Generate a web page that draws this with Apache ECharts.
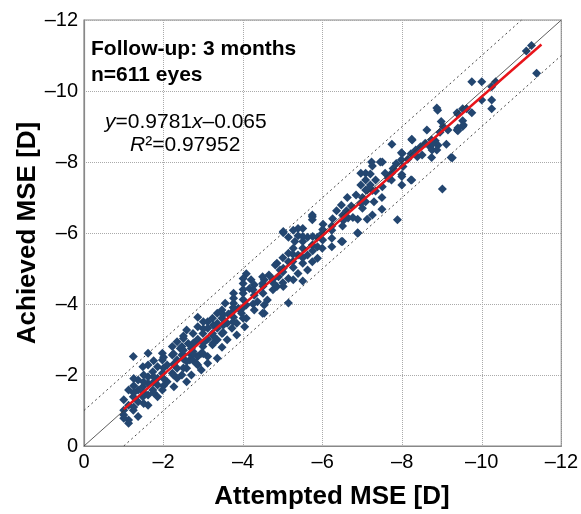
<!DOCTYPE html>
<html>
<head>
<meta charset="utf-8">
<script src="https://cdn.jsdelivr.net/npm/echarts@6/dist/echarts.min.js"></script>
<style>html,body{margin:0;padding:0;background:#fff}#c{width:581px;height:514px}</style>
</head>
<body>
<div id="c"></div>
<script>
// Axis ticks
const xTicks = [0, -2, -4, -6, -8, -10, -12];
const yTicks = [0, -2, -4, -6, -8, -10, -12];

// Scatter: attempted (x) vs achieved (y) MSE
const points = [
[-11.25,-11.28],[-11.12,-11.13],[-11.38,-10.5],[-9.75,-10.26],[-10.0,-10.26],[-10.35,-10.26],[-10.25,-10.12],
[-10.0,-9.75],[-10.25,-9.75],[-10.25,-9.5],[-9.75,-9.39],[-9.52,-9.5],[-9.38,-9.39],[-9.62,-9.5],[-9.52,-9.16],
[-9.52,-9.0],[-9.38,-8.9],[-9.15,-8.9],[-8.98,-9.14],[-9.03,-9.0],[-8.87,-9.52],[-8.62,-8.9],[-8.25,-8.62],
[-7.74,-8.5],[-8.74,-8.62],[-9.11,-8.5],[-9.23,-8.13],[-8.74,-8.13],[-8.0,-8.24],[-7.25,-7.89],[-7.5,-8.0],
[-8.89,-9.46],[-9.4,-9.35],[-9.54,-9.04],[-9.4,-8.96],[-8.95,-8.84],[-9.4,-8.88],[-8.24,-8.64],[-8.83,-8.6],
[-8.58,-8.53],[-8.7,-8.43],[-8.9,-8.47],[-8.46,-8.43],[-8.34,-8.34],[-8.75,-8.34],[-8.87,-8.34],[-7.98,-8.26],
[-8.22,-8.23],[-8.38,-8.15],[-8.14,-8.08],[-9.26,-8.12],[-7.98,-8.06],[-7.23,-8.0],[-7.45,-8.0],[-7.85,-7.96],
[-8.02,-7.87],[-7.77,-7.82],[-6.96,-7.68],[-7.08,-7.68],[-7.2,-7.66],[-7.57,-7.68],[-7.73,-7.68],[-7.99,-7.65],
[-7.08,-7.49],[-7.33,-7.49],[-7.65,-7.54],[-8.22,-7.49],[-6.96,-7.35],[-7.2,-7.35],[-7.08,-7.21],[-7.33,-7.18],
[-9.01,-7.24],[-7.49,-7.0],[-7.08,-6.88],[-7.29,-6.88],[-7.49,-6.67],[-7.99,-7.35],[-7.99,-7.59],[-8.24,-7.49],
[-7.73,-7.49],[-7.88,-6.37],[-6.88,-5.99],[-6.5,-5.76],[-7.25,-6.51],[-7.12,-6.39],[-6.88,-6.39],
[-7.12,-7.21],[-6.84,-7.07],[-6.62,-7.0],[-6.47,-6.79],[-6.72,-6.76],[-6.96,-6.84],[-6.35,-6.63],[-6.6,-6.63],
[-5.74,-6.51],[-5.74,-6.37],[-6.64,-6.42],[-6.76,-6.44],[-6.52,-6.35],[-6.01,-6.25],[-6.23,-6.2],[-5.5,-6.13],
[-5.38,-6.13],[-5.26,-6.08],[-5.01,-6.01],[-6.23,-6.08],[-5.99,-5.99],[-6.88,-6.01],[-5.14,-5.88],[-5.38,-5.92],
[-5.62,-5.88],[-5.87,-5.88],[-6.23,-5.85],[-5.3,-5.76],[-5.5,-5.76],[-6.47,-5.76],[-5.74,-5.66],[-5.87,-5.61],
[-5.99,-5.57],[-6.23,-5.61],[-5.26,-5.57],[-5.5,-5.57],[-5.14,-5.43],[-5.38,-5.38],[-5.62,-5.38],[-5.87,-5.29],
[-5.74,-5.19],[-4.85,-5.15],[-5.14,-5.19],[-5.5,-5.15],[-5.26,-5.03],[-5.01,-5.01],[-5.62,-4.96],[-5.38,-4.86],
[-4.65,-4.82],[-4.89,-4.77],[-4.53,-4.68],[-5.14,-4.72],[-5.26,-4.68],[-5.5,-4.65],[-4.85,-4.49],[-5.01,-4.49],
[-5.01,-6.04],[-5.74,-6.46],[-5.14,-4.03],[-4.53,-3.97],[-4.53,-3.74],
[-4.81,-5.1],[-4.93,-4.96],[-4.49,-4.77],[-4.08,-4.85],[-4.0,-4.72],[-4.2,-4.68],[-4.0,-4.58],[-4.28,-4.54],
[-4.49,-4.58],[-4.77,-4.58],[-4.0,-4.41],[-4.16,-4.44],[-3.76,-4.3],[-3.76,-4.16],[-4.28,-4.25],[-4.0,-4.13],
[-4.61,-4.11],[-4.36,-4.06],[-3.76,-4.02],[-3.55,-4.02],[-4.08,-3.97],[-3.88,-3.88],[-3.47,-3.83],[-4.28,-3.83],
[-4.49,-3.74],[-3.35,-3.74],[-3.63,-3.72],[-3.96,-3.74],[-3.23,-3.6],[-3.47,-3.6],[-3.76,-3.63],[-4.08,-3.6],
[-2.86,-3.63],[-3.11,-3.5],[-3.35,-3.46],[-3.6,-3.46],[-3.84,-3.46],[-2.86,-3.36],[-3.11,-3.32],[-3.35,-3.32],
[-3.72,-3.32],[-4.04,-3.36],[-2.58,-3.27],[-2.74,-3.17],[-2.99,-3.17],[-3.23,-3.17],[-3.47,-3.17],[-3.84,-3.13],
[-2.5,-3.03],[-2.86,-3.01],[-3.11,-3.01],[-3.35,-2.99],[-3.6,-2.99],[-2.34,-2.94],[-2.62,-2.89],[-3.23,-2.85],
[-2.99,-2.8],[-3.47,-2.78],[-2.42,-2.75],[-2.74,-2.66],[-2.5,-2.56],[-2.86,-2.52],[-3.11,-2.52],[-3.35,-2.47],
[-2.66,-2.42],[-3.11,-2.33],[-2.86,-2.28],
[-2.82,-2.94],[-2.22,-2.8],[-2.46,-2.8],[-2.7,-2.75],[-1.97,-2.61],[-1.61,-2.61],[-1.24,-2.52],[-2.22,-2.56],
[-2.46,-2.56],[-2.7,-2.56],[-2.95,-2.61],[-1.97,-2.42],[-2.34,-2.42],[-2.58,-2.38],[-2.82,-2.33],[-1.61,-2.28],
[-2.09,-2.28],[-1.48,-2.23],[-1.85,-2.23],[-2.34,-2.19],[-2.58,-2.19],[-2.95,-2.14],[-1.73,-2.09],[-1.97,-2.05],
[-2.22,-2.05],[-2.46,-2.0],[-2.7,-2.0],[-1.61,-1.95],[-1.85,-1.91],[-2.34,-1.91],[-1.36,-1.86],[-2.09,-1.81],
[-2.58,-1.81],[-1.61,-1.77],[-1.85,-1.72],[-1.48,-1.67],[-2.26,-1.67],[-1.12,-1.58],[-1.36,-1.58],[-1.73,-1.58],
[-1.97,-1.58],[-1.61,-1.44],[-1.24,-1.39],[-1.48,-1.39],[-1.85,-1.39],[-1.0,-1.3],[-1.36,-1.25],[-1.12,-1.15],
[-1.61,-1.15],[-1.0,-1.01],[-1.24,-1.01],[-1.0,-0.87],[-1.36,-0.83],[-1.12,-0.73],[-1.0,-0.78],[-1.12,-0.64],
// denser core of the cloud
[-1.25,-1.1],[-1.25,-1.5],[-1.25,-1.7],[-1.25,-1.9],[-1.5,-1.2],[-1.5,-1.5],[-1.5,-1.8],[-1.5,-2.0],
[-1.75,-1.5],[-1.75,-1.8],[-1.75,-1.95],[-1.75,-2.4],[-2.0,-1.7],[-2.0,-1.9],[-2.0,-2.2],[-2.0,-2.5],
[-2.25,-2.0],[-2.25,-2.3],[-2.25,-2.6],[-2.5,-2.2],[-2.5,-2.45],[-2.5,-2.7],[-2.5,-3.1],
[-2.75,-2.4],[-2.75,-2.6],[-2.75,-2.9],[-3.0,-2.6],[-3.0,-2.9],[-3.0,-3.3],[-3.0,-3.5],
[-3.25,-2.9],[-3.25,-3.1],[-3.25,-3.4],[-3.5,-3.2],[-3.5,-3.4],[-3.5,-3.7],[-3.75,-3.5],[-3.75,-3.8],[-3.75,-3.9],
[-4.0,-3.6],[-4.0,-3.9],[-4.0,-4.3],[-4.25,-4.0],[-4.25,-4.4],[-4.5,-4.3],[-4.5,-4.5],[-4.75,-4.4],[-4.75,-4.7],
[-5.0,-4.6],[-5.0,-4.9],[-5.0,-5.3],[-5.25,-5.2],[-5.25,-5.4],[-5.5,-5.3],[-5.5,-5.9],[-5.75,-5.5],[-5.75,-5.9],
[-6.0,-5.8],[-6.0,-6.1],[-6.25,-6.4],[-6.5,-6.2],[-6.5,-6.5],[-7.0,-7.0],[-7.0,-6.7],[-7.25,-7.2],[-7.5,-7.3],
[-8.5,-8.2],[-8.75,-8.5]
];

// Reference lines
const identityLine = [[0, 0], [-12, -12]];
const upperLimit = [[0, -1], [-11, -12]];
const lowerLimit = [[-1, 0], [-12, -11]];
// Regression line y=0.9781x-0.065 endpoints
const fitLine = [[-1.0, -1.04], [-11.5, -11.31]];

const FONT = "'Liberation Sans', Arial, sans-serif";
const fmt = v => v === 0 ? '0' : '\u2013' + Math.abs(v);

const chart = echarts.init(document.getElementById('c'), null, {renderer: 'canvas'});
chart.setOption({
  animation: false,
  backgroundColor: '#fff',
  grid: {left: 84, right: 4, top: 20, bottom: 68, show: true, borderColor: '#888', borderWidth: 1.2},
  xAxis: {
    type: 'value', min: -12, max: 0, interval: 2, inverse: true,
    axisLine: {show: true, lineStyle: {color: '#888', width: 1.2}},
    axisTick: {show: false},
    axisLabel: {formatter: fmt, fontSize: 20, color: '#000', fontFamily: FONT, margin: 6},
    splitLine: {show: true, lineStyle: {color: '#aaa', type: 'dotted', width: 1}}
  },
  yAxis: {
    type: 'value', min: -12, max: 0, interval: 2, inverse: true,
    axisLine: {show: true, lineStyle: {color: '#888', width: 1.2}},
    axisTick: {show: false},
    axisLabel: {formatter: fmt, fontSize: 20, color: '#000', fontFamily: FONT, margin: 6},
    splitLine: {show: true, lineStyle: {color: '#aaa', type: 'dotted', width: 1}}
  },
  series: [
    {type: 'line', data: upperLimit, showSymbol: false, silent: true, z: 1,
     lineStyle: {color: '#444', width: 1, type: [2, 3]}},
    {type: 'line', data: lowerLimit, showSymbol: false, silent: true, z: 1,
     lineStyle: {color: '#444', width: 1, type: [2, 3]}},
    {type: 'scatter', data: points, symbol: 'diamond', symbolSize: 9, z: 2,
     itemStyle: {color: '#234670', opacity: 1}},
    {type: 'line', data: identityLine, showSymbol: false, silent: true, z: 3,
     lineStyle: {color: '#333', width: 0.8}},
    {type: 'line', data: fitLine, showSymbol: false, silent: true, z: 4,
     lineStyle: {color: '#e8141a', width: 2.5}}
  ],
  graphic: [
    {type: 'text', left: 91, top: 36, z: 10,
     style: {text: 'Follow-up: 3 months\nn=611 eyes', font: 'bold 21px ' + FONT, lineHeight: 26, fill: '#000'}},
    {type: 'text', left: 105, top: 112, z: 10,
     style: {text: '{i|y}=0.9781{i|x}\u20130.065', font: '21px ' + FONT, fill: '#000',
       rich: {i: {fontStyle: 'italic', fontSize: 21, fontFamily: FONT}}}},
    {type: 'text', left: 130, top: 135, z: 10,
     style: {text: '{i|R}\u00b2=0.97952', font: '21px ' + FONT, fill: '#000',
       rich: {i: {fontStyle: 'italic', fontSize: 21, fontFamily: FONT}}}},
    {type: 'text', x: 332, y: 497, z: 10,
     style: {text: 'Attempted MSE [D]', font: 'bold 26px ' + FONT, fill: '#000', align: 'center', verticalAlign: 'middle'}},
    {type: 'text', x: 28, y: 233, rotation: Math.PI / 2, z: 10,
     style: {text: 'Achieved MSE [D]', font: 'bold 26px ' + FONT, fill: '#000', align: 'center', verticalAlign: 'middle'}}
  ]
});
</script>
</body>
</html>
